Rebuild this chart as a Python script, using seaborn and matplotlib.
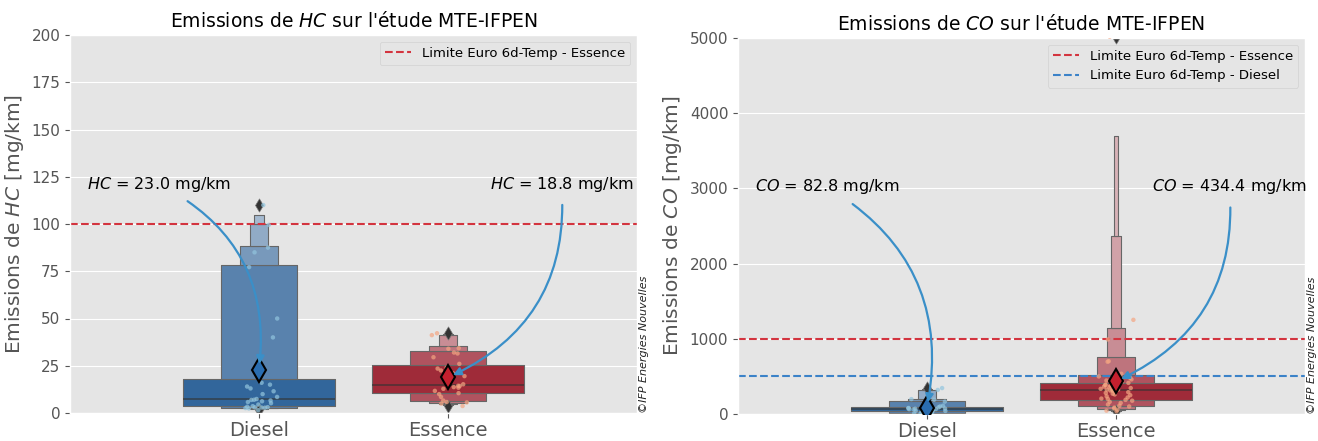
import numpy as np
import pandas as pd
import seaborn as sns
import matplotlib.pyplot as plt

# data (mg/km)
categories = ["Diesel", "Essence"]
hc_diesel = [1.5, 2.4, 2.6, 2.8, 2.9, 3.0, 3.1, 3.3, 3.6, 4.5, 5.2, 5.8, 6.2, 6.6, 6.9, 7.0,
             7.4, 8.5, 10.0, 11.5, 13.0, 14.0, 15.0, 16.0, 24.0, 40.0, 50.0, 77.2, 85.0, 87.5, 99.5, 110.0]
hc_essence = [3.7, 5.0, 5.6, 5.8, 6.6, 8.5, 10.0, 10.5, 11.7, 12.8, 13.4, 13.7, 14.0, 14.3, 14.4,
              15.2, 17.5, 19.5, 21.0, 22.5, 23.5, 24.0, 26.0, 29.5, 31.5, 32.0, 34.0, 34.3, 41.2, 42.2]
co_diesel = [2, 4, 5, 6, 9, 14, 22, 33, 37, 41, 45, 49, 53, 56, 59, 61, 64, 66, 70, 73, 76, 80,
             84, 88, 100, 110, 125, 165, 190, 198, 320, 345]
co_essence = [36, 45, 55, 75, 85, 100, 110, 127, 147, 162, 177, 188, 200, 205, 220, 235, 250, 260,
              270, 280, 290, 308, 312, 318, 325, 325, 335, 345, 355, 365, 375, 385, 390, 405, 414,
              430, 445, 460, 480, 500, 535, 695, 702, 991, 1252, 5018]

# Euro 6d-Temp limits
hc_limits = {"Essence": 100}
co_limits = {"Essence": 1000, "Diesel": 500}

box_pal = {"Diesel": "#2166ac", "Essence": "#b2182b"}
strip_pal = {"Diesel": "#92c5de", "Essence": "#f4a582"}
mean_col = {"Diesel": "#2a6db0", "Essence": "#c4202e"}
lim_col = {"Essence": "#d3343f", "Diesel": "#3b82c8"}
arrow_col = "#3a8fc8"

plt.style.use("ggplot")


def make_df(diesel, essence, col):
    return pd.DataFrame({"Carburant": ["Diesel"] * len(diesel) + ["Essence"] * len(essence),
                         col: list(diesel) + list(essence)})


def draw(ax, df, col, k, limits, ylim, yticks, text_y):
    sns.boxenplot(data=df, x="Carburant", y=col, hue="Carburant", order=categories,
                  hue_order=categories, palette=box_pal, k_depth=k, width_method="exponential",
                  linecolor="#666666", linewidth=0.8,
                  line_kws=dict(color="#333333", linewidth=1.2, alpha=0.7),
                  flier_kws=dict(marker="d", s=45, color="#333333", facecolor="#333333"),
                  legend=False, ax=ax)
    sns.stripplot(data=df, x="Carburant", y=col, hue="Carburant", order=categories,
                  hue_order=categories, palette=strip_pal, size=3.2, alpha=0.7, jitter=0.1,
                  legend=False, ax=ax, zorder=3)
    means = df.groupby("Carburant")[col].mean().reindex(categories)
    for i, cat in enumerate(categories):
        ax.plot(i, means[cat], marker="d", markersize=12, markerfacecolor=mean_col[cat],
                markeredgecolor="black", markeredgewidth=1.5, zorder=6)
    for cat in ["Essence", "Diesel"]:
        if cat in limits:
            ax.axhline(limits[cat], ls="--", lw=1.5, color=lim_col[cat],
                       label="Limite Euro 6d-Temp - " + cat)
    # annotations with the means
    text_x = {"Diesel": -0.53, "Essence": 1.6}
    for i, cat in enumerate(categories):
        ax.annotate(f"${col}$ = {means[cat]:.1f} mg/km", xy=(i, means[cat]),
                    xytext=(text_x[cat], text_y), ha="center", va="center", fontsize=11.5,
                    color="black", zorder=7,
                    arrowprops=dict(arrowstyle="-|>", color=arrow_col, lw=1.6,
                                    connectionstyle="arc3,rad=-0.35", shrinkA=6, shrinkB=4))
    ax.set_xlim(-1, 2)
    ax.set_ylim(*ylim)
    ax.set_yticks(yticks)
    ax.xaxis.grid(False)
    ax.set_xlabel("")
    ax.set_ylabel(f"Emissions de ${col}$ [mg/km]", fontsize=14.5, color="#555555")
    ax.set_title(f"Emissions de ${col}$ sur l'étude MTE-IFPEN", fontsize=13.5, color="black")
    ax.tick_params(axis="x", labelsize=14, pad=2)
    ax.tick_params(axis="y", labelsize=11)
    ax.legend(loc="upper right", fontsize=9.5)
    ax.text(1.004, 0.0, "©IFP Energies Nouvelles", transform=ax.transAxes, rotation=90,
            ha="left", va="bottom", fontsize=8, style="italic", color="#222222")


fig, (ax1, ax2) = plt.subplots(1, 2, figsize=(13.18, 4.41), dpi=100)
ax1.set_position([70 / 1318, 28 / 441, 567 / 1318, 378 / 441])
ax2.set_position([738 / 1318, 27 / 441, 567 / 1318, 376 / 441])

draw(ax1, make_df(hc_diesel, hc_essence, "HC"), "HC", 5, hc_limits, (0, 200),
     np.arange(0, 201, 25), 121)
draw(ax2, make_df(co_diesel, co_essence, "CO"), "CO", 6, co_limits, (0, 5000),
     np.arange(0, 5001, 1000), 3020)

fig.savefig("out.png", dpi=100)
